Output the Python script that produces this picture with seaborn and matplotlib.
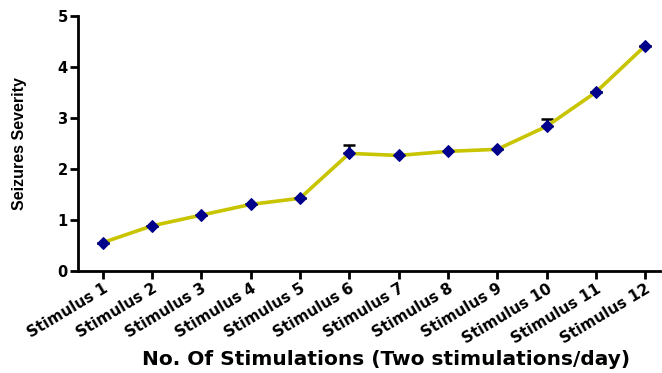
import matplotlib
matplotlib.use("Agg")
import matplotlib.pyplot as plt
import seaborn as sns
import pandas as pd

# Kindling data: mean seizure score per stimulation
stimuli = [f"Stimulus {i}" for i in range(1, 13)]
severity = [0.55, 0.88, 1.09, 1.30, 1.42, 2.30, 2.26, 2.34, 2.38, 2.83, 3.50, 4.41]
sem = [0.0, 0.0, 0.0, 0.0, 0.0, 0.16, 0.0, 0.0, 0.0, 0.15, 0.0, 0.0]

df = pd.DataFrame({"stimulus": stimuli, "severity": severity, "sem": sem})
df["pos"] = range(len(df))

sns.set_style("white")
plt.rcParams["font.family"] = ["DejaVu Sans"]
plt.rcParams.update({"text.color": "black", "axes.labelcolor": "black",
                     "xtick.color": "black", "ytick.color": "black"})

fig = plt.figure(figsize=(6.62, 3.73), dpi=100)
ax = fig.add_axes([78 / 662, 1 - 270.7 / 373, 582 / 662, (270.7 - 15.7) / 373])

# upper error caps
ax.errorbar(df["pos"], df["severity"], yerr=[[0] * len(df), df["sem"]],
            fmt="none", ecolor="black", elinewidth=1.8, capsize=4, capthick=1.8, zorder=2)
sns.lineplot(data=df, x="pos", y="severity", ax=ax, color="#C8C400", linewidth=2.6,
             marker="D", markersize=6.5, markerfacecolor="#00008B", markeredgecolor="#00008B",
             zorder=3)

ax.set_xlim(-0.5, 11.3)
ax.set_ylim(0, 5)
ax.set_yticks(range(6))
ax.set_xticks(df["pos"])
ax.set_xticklabels(df["stimulus"], rotation=31, ha="right", rotation_mode="anchor",
                   fontweight="bold", fontsize=11)
for lbl in ax.get_yticklabels():
    lbl.set_fontweight("bold")
    lbl.set_fontsize(10.5)

for side in ["top", "right"]:
    ax.spines[side].set_visible(False)
for side in ["left", "bottom"]:
    ax.spines[side].set_linewidth(2)
    ax.spines[side].set_color("black")
ax.tick_params(axis="both", direction="out", length=5.5, width=2, color="black",
               bottom=True, left=True, pad=2)

ax.set_xlabel("No. Of Stimulations (Two stimulations/day)", fontweight="bold",
              fontsize=14.5)
ax.xaxis.set_label_coords(0.53, -0.31)
ax.set_ylabel("Seizures Severity", fontweight="bold", fontsize=11.5,
              family=["Liberation Sans", "DejaVu Sans"])
ax.yaxis.set_label_coords(-0.088, 0.5)

fig.savefig("out.png", dpi=100)
